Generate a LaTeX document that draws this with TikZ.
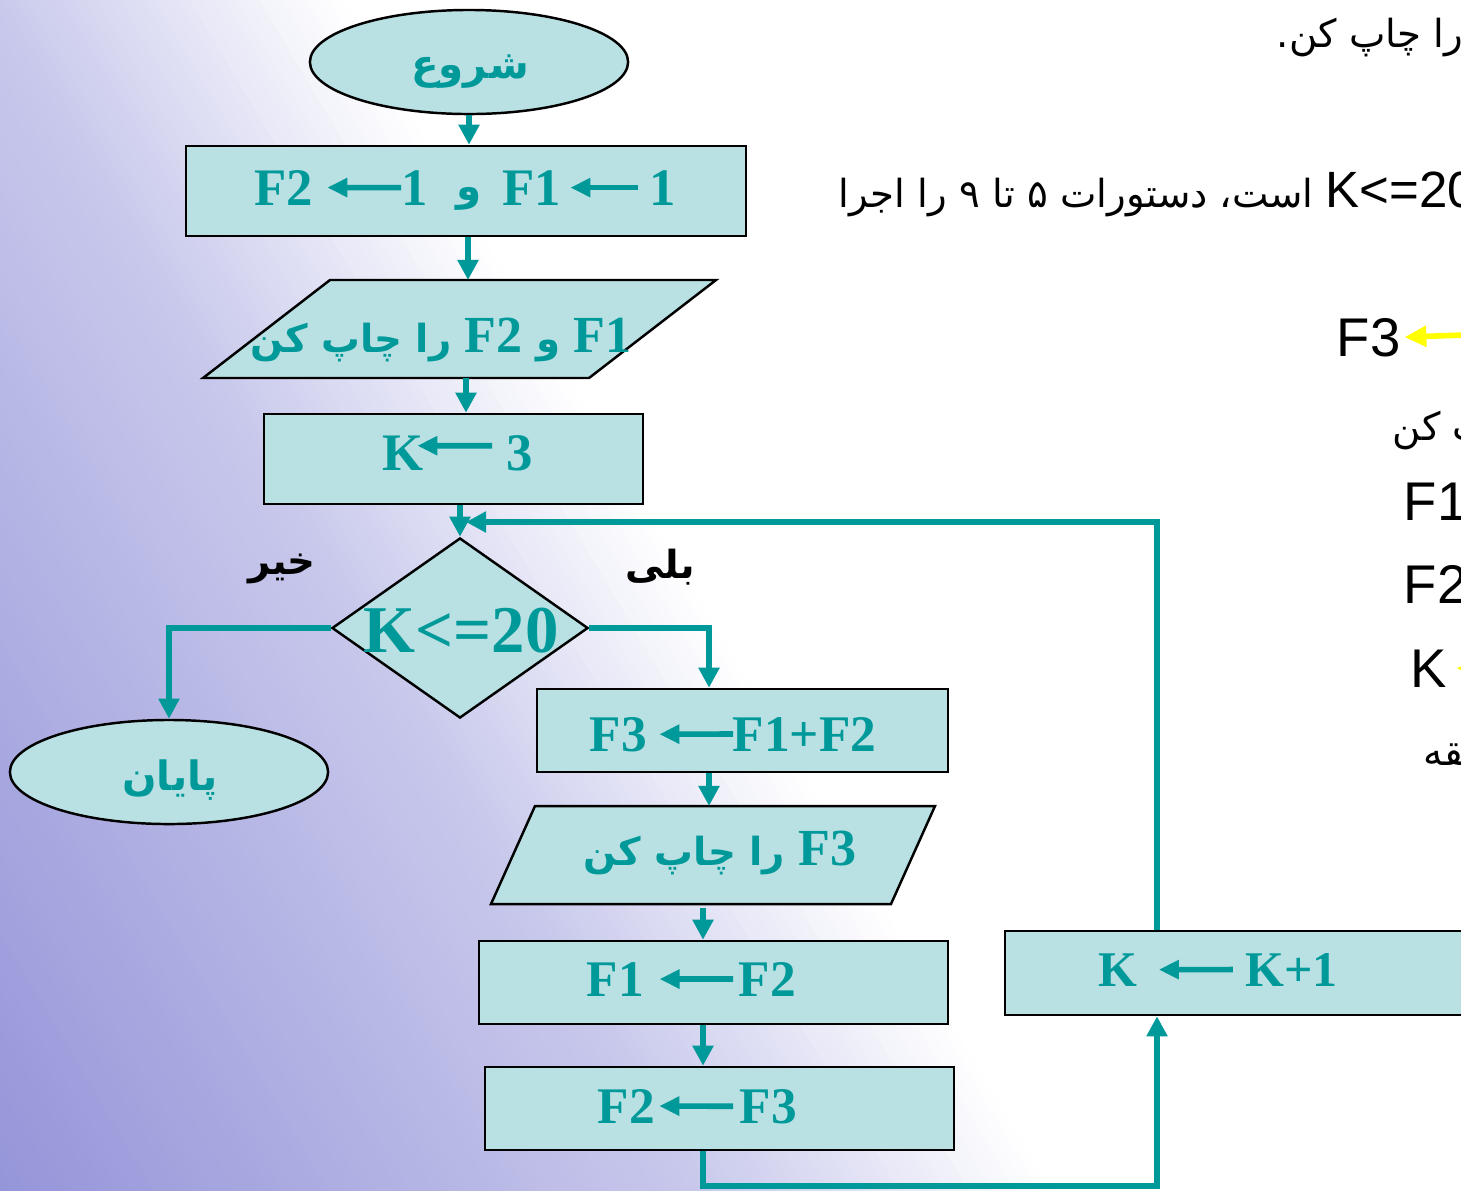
\documentclass[tikz,border=0pt]{standalone}
\usepackage{fontspec}
\setmainfont{Liberation Serif}
\newfontfamily\lser{Liberation Serif}
\newfontfamily\lsans{Liberation Sans}
\newfontfamily\arb[Script=Arabic]{DejaVu Sans}
\usetikzlibrary{shapes.geometric,arrows.meta}
\TeXXeTstate=1
\definecolor{tealc}{RGB}{0,153,153}
\definecolor{boxfill}{RGB}{185,224,227}
\definecolor{bgmid}{RGB}{200,200,236}
\definecolor{bgdark}{RGB}{146,146,216}
\definecolor{yel}{RGB}{255,255,0}
\newcommand\latb[1]{{\lser\fontsize{14.8}{18}\selectfont #1}}
\begin{document}
\begin{tikzpicture}[x=0.01cm,y=-0.01cm,
  box/.style={rectangle, draw=black, line width=0.7pt, fill=boxfill, inner sep=0pt},
  term/.style={ellipse, draw=black, line width=0.7pt, fill=boxfill, inner sep=0pt, minimum width=3.18cm, minimum height=1.04cm},
  para/.style={draw=black, line width=0.7pt, fill=boxfill},
  conn/.style={draw=tealc, line width=1.7pt, line join=miter, -{Triangle[length=5.7pt,width=5.7pt]}},
  tarr/.style={draw=tealc, line width=1.6pt, -{Triangle[length=5.7pt,width=5.2pt]}},
  yarr/.style={draw=yel, line width=1.6pt, -{Triangle[length=6.2pt,width=5.7pt]}},
  ltA/.style={text=tealc, font=\lser\bfseries\fontsize{15}{18}\selectfont, inner sep=0pt, anchor=base west},
  ltB/.style={text=tealc, font=\lser\bfseries\fontsize{14.6}{17}\selectfont, inner sep=0pt, anchor=base west},
  ltC/.style={text=tealc, font=\lser\bfseries\fontsize{14.2}{17}\selectfont, inner sep=0pt, anchor=base west},
  arT/.style={text=tealc, font=\arb\bfseries\fontsize{11.5}{14}\selectfont, inner sep=0pt, anchor=base},
  arP/.style={text=tealc, font=\arb\bfseries\fontsize{11}{14}\selectfont, inner sep=0pt, anchor=base},
  labK/.style={text=black, font=\arb\bfseries\fontsize{11}{14}\selectfont, inner sep=0pt, anchor=base},
  rlat/.style={text=black, font=\lsans\fontsize{15.5}{18}\selectfont, inner sep=0pt, anchor=base west},
  rarb/.style={text=black, font=\arb\fontsize{11}{14}\selectfont, inner sep=0pt, anchor=base west}
]
\useasboundingbox (0,0) rectangle (1461,1190);
\clip (0,0) rectangle (1461,1190);
% background gradient
\fill[white] (0,0) rectangle (1461,1190);
\foreach \i in {0,...,92}{
  \pgfmathsetmacro\da{-10*\i+0.6}
  \pgfmathsetmacro\db{-10*\i-10.6}
  \pgfmathsetmacro\dm{-10*\i-5}
  \ifdim\dm pt>-300pt
    \pgfmathtruncatemacro\pp{-(\dm)/3}
    \colorlet{stripecol}{bgmid!\pp!white}
  \else
    \pgfmathtruncatemacro\pp{min(100,(-(\dm)-300)/6.3)}
    \colorlet{stripecol}{bgdark!\pp!bgmid}
  \fi
  \fill[stripecol] ({340+0.859*(\da)+1280},{-0.512*(\da)+2148}) -- ({340+0.859*(\da)-1280},{-0.512*(\da)-2148}) -- ({340+0.859*(\db)-1280},{-0.512*(\db)-2148}) -- ({340+0.859*(\db)+1280},{-0.512*(\db)+2148}) -- cycle;
}
% shapes
\node[term] (start) at (469,62) {};
\node[box, minimum width=5.6cm, minimum height=0.9cm] (b1) at (466,191) {};
\draw[para] (330,280) -- (716,280) -- (589,378) -- (203,378) -- cycle;
\coordinate (p1top) at (468,280);
\coordinate (p1bot) at (466,378);
\node[box, minimum width=3.79cm, minimum height=0.9cm] (b2) at (453.5,459) {};
\node[diamond, draw=black, line width=0.7pt, fill=boxfill, inner sep=0pt, minimum width=2.56cm, minimum height=1.8cm] (dia) at (460,628) {};
\node[term] (end) at (169,772) {};
\node[box, minimum width=4.11cm, minimum height=0.83cm] (b3) at (742.5,730.5) {};
\draw[para] (535,806) -- (935,806) -- (891,904) -- (491,904) -- cycle;
\coordinate (p2top) at (709,806);
\coordinate (p2bot) at (703,908);
\node[box, minimum width=4.69cm, minimum height=0.83cm] (b4) at (713.5,982.5) {};
\node[box, minimum width=4.69cm, minimum height=0.83cm] (b5) at (719.5,1108.5) {};
\node[box, minimum width=4.7cm, minimum height=0.84cm] (b6) at (1240,973) {};
% helper coordinates
\coordinate (ax3) at (709,0);
\coordinate (ax6) at (1157,0);
\coordinate (lowy) at (0,1186);
\coordinate (loopend) at (466,522);
% connectors
\draw[conn] (start.south) -- (start.south |- b1.north);
\draw[conn] (b1.south -| p1top) -- (p1top);
\draw[conn] (p1bot) -- (p1bot |- b2.north);
\draw[conn] (b2.south -| dia.north) -- (dia.north);
\draw[conn] (dia.west) -| (end.north);
\draw[conn] (dia.east) -| (b3.north -| ax3);
\draw[conn] (b3.south -| ax3) -- (p2top);
\draw[conn] (p2bot) -- (p2bot |- b4.north);
\draw[conn] (b4.south -| p2bot) -- (b5.north -| p2bot);
\draw[conn] (b5.south -| p2bot) -- (p2bot |- lowy) -| (b6.south -| ax6);
\draw[conn] (b6.north -| ax6) |- (loopend);
% texts in shapes
\node[arT] (tstart) at (470,78) {\beginR شروع\endR};
\node[ltA] (b1a) at (254,205) {F2};
\node[ltA] (b1b) at (401,205) {1};
\node[arT] (b1c) at (469,200) {\beginR و\endR};
\node[ltA] (b1d) at (502,205) {F1};
\node[ltA] (b1e) at (649,205) {1};
\draw[tarr, shorten >=3.8pt] (b1b.west) -- (b1a.east);
\draw[tarr, shorten >=2.4pt, shorten <=3.1pt] (b1e.west) -- (b1d.east);
\node[arP] (tp1) at (441,352) {\beginR\latb{F1} و \latb{F2} را چاپ کن\endR};
\node[ltA] (b2a) at (381.5,470) {K};
\node[ltA] (b2b) at (505.4,470) {3};
\draw[tarr, shorten >=-1.85pt, shorten <=3.8pt] ([yshift=2pt]b2b.west) -- ([yshift=2pt]b2a.east);
\node[text=tealc, font=\lser\bfseries\fontsize{19}{22}\selectfont, inner sep=0pt, anchor=base] (tdia) at (461,652) {K<=20};
\node[labK] (tno) at (282,574) {\beginR خیر\endR};
\node[labK] (tyes) at (660,578) {\beginR بلی\endR};
\node[arT] (tend) at (170,790) {\beginR پایان\endR};
\node[ltB] (b3a) at (589,751) {F3};
\node[ltB] (b3b) at (732,751) {F1+F2};
\draw[tarr, shorten >=3.4pt, shorten <=-0.3pt] (b3b.west) -- (b3a.east);
\node[arP] (tp2) at (720,865) {\beginR\latb{F3} را چاپ کن\endR};
\node[ltB] (b4a) at (586,996) {F1};
\node[ltB] (b4b) at (738,996) {F2};
\draw[tarr, shorten >=4.3pt, shorten <=1.4pt] (b4b.west) -- (b4a.east);
\node[ltB] (b5a) at (597,1123) {F2};
\node[ltB] (b5b) at (739,1123) {F3};
\draw[tarr, shorten >=1.1pt, shorten <=1.7pt] (b5b.west) -- (b5a.east);
\node[ltC] (b6a) at (1097.5,986) {K};
\node[ltC] (b6b) at (1244.5,986) {K+1};
\draw[tarr, shorten >=6pt, shorten <=3.3pt] (b6b.west) -- (b6a.east);
% right-hand text
\node[rarb] (r1) at (1276,47) {\beginR را چاپ کن.\endR};
\node[rarb] (r2) at (838,207) {\beginR{\lsans\fontsize{14.5}{18}\selectfont\beginL K<=20\endL} است، دستورات ۵ تا ۹ را اجرا\endR};
\node[rlat] (r3) at (1336,356) {F3};
\coordinate (y3) at (1520,333);
\draw[yarr, shorten >=1pt] (y3) -- (r3.east);
\node[rarb] (r4) at (1392,440) {\beginR چاپ کن\endR};
\node[rlat] (r5) at (1403,520) {F1};
\node[rlat] (r6) at (1403,603) {F2};
\node[rlat] (r7) at (1410,687) {K};
\coordinate (y7) at (1560,668);
\draw[yarr, shorten >=2.5pt] (y7) -- (r7.east);
\node[rarb] (r8) at (1423,765) {\beginR حلقه\endR};
\end{tikzpicture}
\end{document}
